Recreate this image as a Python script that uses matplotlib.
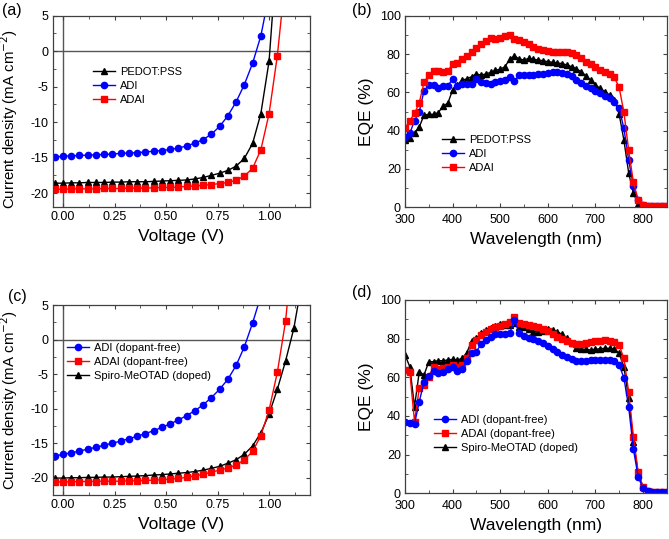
import numpy as np
import matplotlib.pyplot as plt
from matplotlib.ticker import MultipleLocator

plt.rcParams['font.family'] = ['Liberation Sans', 'DejaVu Sans']
plt.rcParams['axes.unicode_minus'] = False

# ---------- (a) J-V ----------
v_a_adi = [-0.04, 0.00, 0.04, 0.08, 0.12, 0.16, 0.20, 0.24, 0.28, 0.32, 0.36, 0.40, 0.44,
           0.48, 0.52, 0.56, 0.60, 0.64, 0.68, 0.72, 0.76, 0.80, 0.84, 0.88, 0.92, 0.96, 1.00]
j_a_adi = [-14.9, -14.8, -14.75, -14.7, -14.65, -14.6, -14.55, -14.5, -14.4, -14.35, -14.3, -14.2,
           -14.1, -14.0, -13.85, -13.65, -13.35, -12.95, -12.45, -11.7, -10.6, -9.1, -7.15, -4.7,
           -1.7, 2.15, 8.0]
v_a_pedot = v_a_adi + [1.04]
j_a_pedot = [-18.6, -18.6, -18.55, -18.55, -18.5, -18.5, -18.5, -18.45, -18.45, -18.4, -18.4, -18.4,
             -18.35, -18.3, -18.25, -18.2, -18.15, -18.0, -17.8, -17.5, -17.2, -16.8, -16.2, -15.1,
             -13.0, -8.8, -1.4, 14.6]
v_a_adai = v_a_pedot + [1.08]
j_a_adai = [-19.45, -19.45, -19.4, -19.4, -19.4, -19.4, -19.35, -19.35, -19.35, -19.3, -19.3, -19.3,
            -19.25, -19.2, -19.2, -19.15, -19.05, -19.0, -18.9, -18.8, -18.65, -18.5, -18.2, -17.6,
            -16.5, -13.9, -8.8, -0.65, 10.6]

# ---------- (c) J-V ----------
v_c_adi = v_a_adi[:-1]
j_c_adi = [-16.9, -16.6, -16.4, -16.15, -15.85, -15.6, -15.3, -15.0, -14.7, -14.35, -14.0, -13.6,
           -13.2, -12.7, -12.2, -11.65, -11.0, -10.3, -9.45, -8.4, -7.2, -5.75, -3.75, -1.05, 2.4, 6.3]
v_c_adai = v_a_adai + [1.12]
j_c_adai = [-20.6, -20.6, -20.6, -20.55, -20.55, -20.55, -20.5, -20.5, -20.5, -20.45, -20.45, -20.4,
            -20.35, -20.3, -20.2, -20.1, -19.95, -19.75, -19.5, -19.2, -18.9, -18.6, -18.15, -17.4,
            -16.2, -13.9, -10.2, -4.75, 2.65, 15.0]
v_c_spiro = v_c_adai + [1.16]
j_c_spiro = [-20.05, -20.05, -20.0, -20.0, -19.95, -19.95, -19.9, -19.9, -19.85, -19.8, -19.75, -19.7,
             -19.6, -19.55, -19.45, -19.35, -19.25, -19.1, -18.9, -18.65, -18.35, -17.9, -17.4, -16.6,
             -15.4, -13.5, -10.8, -7.2, -3.1, 1.6, 8.4]

# ---------- EQE ----------
wl = np.arange(300, 851, 10)

eqe_b_pedot = [35.1, 36.3, 38.6, 41.9, 48.2, 48.5, 48.5, 49.4, 52.9, 54.3, 61.2, 63.8, 66.4, 67.0,
               68.2, 69.6, 69.0, 69.6, 70.4, 71.5, 72.0, 73.4, 77.2, 79.0, 77.4, 76.9, 77.7, 77.2,
               76.9, 76.5, 76.0, 75.7, 75.3, 75.0, 74.3, 73.4, 72.3, 70.8, 68.7, 66.4, 63.8, 62.1,
               60.3, 58.6, 56.0, 48.7, 35.1, 18.1, 7.3, 1.7, 0.9, 0.3, 0.3, 0.3, 0.3, 0.3]
eqe_b_adi = [36.9, 38.6, 45.2, 49.9, 60.9, 63.8, 63.8, 62.1, 63.3, 63.3, 67.0, 63.5, 64.2, 64.3,
             64.2, 67.0, 65.2, 64.9, 64.2, 65.6, 65.9, 66.4, 68.2, 65.9, 69.0, 69.0, 69.0, 69.0,
             69.4, 69.6, 69.9, 70.4, 70.4, 69.9, 69.6, 68.5, 66.4, 64.7, 63.3, 62.1, 60.9, 59.5,
             58.1, 56.9, 55.1, 51.7, 41.2, 24.7, 11.3, 3.8, 1.2, 0.5, 0.5, 0.5, 0.5, 0.5]
eqe_b_adai = [41.2, 45.2, 49.0, 54.6, 65.2, 69.0, 71.3, 71.3, 70.8, 71.3, 74.6, 75.5, 77.2, 79.1,
              81.2, 83.3, 85.0, 87.0, 88.5, 88.0, 88.5, 89.4, 90.1, 88.0, 87.3, 86.4, 85.0, 83.8,
              82.8, 82.1, 81.4, 81.0, 81.0, 81.2, 81.0, 80.3, 79.5, 78.0, 76.0, 74.6, 73.0, 71.7,
              70.4, 69.6, 67.8, 62.6, 49.7, 29.9, 13.0, 4.0, 1.0, 0.5, 0.5, 0.5, 0.5, 0.5]

eqe_d_adi = [36.7, 36.2, 35.9, 47.4, 57.8, 60.7, 63.3, 62.1, 62.9, 64.3, 65.2, 63.4, 64.3, 68.6,
             72.8, 73.3, 77.2, 79.3, 81.0, 82.4, 82.2, 82.2, 82.8, 89.7, 82.8, 81.6, 80.5, 79.7,
             78.8, 77.6, 76.2, 74.7, 73.3, 71.6, 70.3, 69.3, 68.6, 68.4, 68.6, 69.0, 69.0, 69.0,
             69.0, 69.0, 68.6, 66.4, 59.8, 44.8, 22.9, 8.6, 2.6, 1.0, 0.5, 0.5, 0.5, 0.5]
eqe_d_adai = [63.8, 62.9, 37.1, 54.3, 56.0, 60.3, 65.5, 64.3, 64.7, 65.5, 66.4, 65.5, 66.4, 69.8,
              76.7, 79.3, 81.9, 83.6, 85.0, 85.9, 86.6, 87.6, 88.4, 91.4, 87.9, 87.6, 87.1, 86.6,
              85.9, 85.0, 84.0, 82.4, 81.0, 79.8, 78.8, 77.9, 77.2, 77.2, 77.6, 78.1, 78.6, 79.0,
              79.1, 79.0, 78.4, 76.7, 69.8, 52.6, 29.3, 11.2, 3.4, 1.2, 0.5, 0.5, 0.5, 0.5]
eqe_d_spiro = [71.6, 65.5, 44.8, 62.9, 61.2, 68.1, 68.1, 68.6, 68.6, 69.0, 69.3, 69.0, 69.8, 72.8,
               78.8, 80.2, 82.8, 84.5, 85.3, 86.7, 87.6, 87.1, 87.1, 87.9, 86.2, 85.9, 85.0, 83.6,
               83.6, 84.1, 84.8, 84.5, 83.6, 82.2, 80.2, 77.6, 75.3, 74.5, 74.5, 74.1, 74.5, 74.8,
               75.0, 75.0, 74.7, 72.4, 65.5, 49.1, 26.7, 10.3, 3.4, 1.2, 0.5, 0.5, 0.5, 0.5]

W, H = 669, 539
fig = plt.figure(figsize=(W / 100, H / 100), dpi=100)


def px_axes(left, top, right, bottom):
    return fig.add_axes([left / W, 1 - bottom / H, (right - left) / W, (bottom - top) / H])


def style(ax, xpad=3):
    for s in ax.spines.values():
        s.set_color('#404040')
        s.set_linewidth(0.9)
    ax.tick_params(which='both', direction='in', top=True, right=True, color='#404040',
                   labelsize=9, pad=3)
    ax.tick_params(axis='x', pad=xpad)
    ax.tick_params(which='major', length=3)
    ax.tick_params(which='minor', length=2)


def px_legend(ax, handles, x, y):
    ax.legend(handles=handles, loc='upper left', bbox_to_anchor=(x / W, 1 - y / H),
              bbox_transform=fig.transFigure, frameon=False, fontsize=8, borderpad=0,
              borderaxespad=0, handlelength=2.0, handletextpad=0.4, labelspacing=0.35)


mk = dict(markersize=4.5, linewidth=1.0)

# (a)
ax = px_axes(52.7, 15.7, 310.3, 207.3)
ax.axhline(0, color='#555555', lw=1.0, zorder=1)
ax.axvline(0, color='#555555', lw=1.0, zorder=1)
h1, = ax.plot(v_a_pedot, j_a_pedot, '-^', color='black', label='PEDOT:PSS', **mk)
h2, = ax.plot(v_a_adi, j_a_adi, '-o', color='#0000ff', label='ADI', **mk)
h3, = ax.plot(v_a_adai, j_a_adai, '-s', color='#ff0000', label='ADAI', **mk)
ax.set_xlim(-0.05, 1.2)
ax.set_ylim(-22, 5)
ax.xaxis.set_major_locator(MultipleLocator(0.25))
ax.xaxis.set_minor_locator(MultipleLocator(0.125))
ax.yaxis.set_major_locator(MultipleLocator(5))
ax.yaxis.set_minor_locator(MultipleLocator(2.5))
ax.xaxis.set_major_formatter(plt.FormatStrFormatter('%.2f'))
ax.set_xlabel('Voltage (V)', fontsize=12.5)
ax.set_ylabel('Current density (mA cm$^{-2}$)', fontsize=10.8)
style(ax)
ax.yaxis.set_label_coords(-0.125, 0.46)
px_legend(ax, [h1, h2, h3], 93, 67)
fig.text(2 / W, 1 - 11 / H, '(a)', fontsize=11.5, va='center')

# (b)
ax = px_axes(405, 15.7, 666.7, 207.3)
h1, = ax.plot(wl, eqe_b_pedot, '-^', color='black', label='PEDOT:PSS', **mk)
h2, = ax.plot(wl, eqe_b_adi, '-o', color='#0000ff', label='ADI', **mk)
h3, = ax.plot(wl, eqe_b_adai, '-s', color='#ff0000', label='ADAI', **mk)
ax.set_xlim(300, 850)
ax.set_ylim(0, 100)
ax.xaxis.set_major_locator(MultipleLocator(100))
ax.xaxis.set_minor_locator(MultipleLocator(50))
ax.yaxis.set_major_locator(MultipleLocator(20))
ax.yaxis.set_minor_locator(MultipleLocator(10))
ax.set_xlabel('Wavelength (nm)', fontsize=12.5)
ax.set_ylabel('EQE (%)', fontsize=12.5)
style(ax, xpad=5)
px_legend(ax, [h1, h2, h3], 442, 135)
fig.text(352 / W, 1 - 11 / H, '(b)', fontsize=11.5, va='center')

# (c)
ax = px_axes(52.7, 305, 310.3, 495)
ax.axhline(0, color='#555555', lw=1.0, zorder=1)
ax.axvline(0, color='#555555', lw=1.0, zorder=1)
h3, = ax.plot(v_c_spiro, j_c_spiro, '-^', color='black', label='Spiro-MeOTAD (doped)', **mk)
h2, = ax.plot(v_c_adai, j_c_adai, '-s', color='#ff0000', label='ADAI (dopant-free)', **mk)
h1, = ax.plot(v_c_adi, j_c_adi, '-o', color='#0000ff', label='ADI (dopant-free)', **mk)
ax.set_xlim(-0.05, 1.2)
ax.set_ylim(-22.5, 5)
ax.xaxis.set_major_locator(MultipleLocator(0.25))
ax.xaxis.set_minor_locator(MultipleLocator(0.125))
ax.yaxis.set_major_locator(MultipleLocator(5))
ax.yaxis.set_minor_locator(MultipleLocator(2.5))
ax.xaxis.set_major_formatter(plt.FormatStrFormatter('%.2f'))
ax.set_xlabel('Voltage (V)', fontsize=12.5)
ax.set_ylabel('Current density (mA cm$^{-2}$)', fontsize=10.8)
style(ax)
ax.yaxis.set_label_coords(-0.125, 0.5)
px_legend(ax, [h1, h2, h3], 67, 343)
fig.text(8 / W, 1 - 296 / H, '(c)', fontsize=11.5, va='center')

# (d)
ax = px_axes(405, 300, 666.7, 493.3)
h3, = ax.plot(wl, eqe_d_spiro, '-^', color='black', label='Spiro-MeOTAD (doped)', **mk)
h2, = ax.plot(wl, eqe_d_adai, '-s', color='#ff0000', label='ADAI (dopant-free)', **mk)
h1, = ax.plot(wl, eqe_d_adi, '-o', color='#0000ff', label='ADI (dopant-free)', **mk)
ax.set_xlim(300, 850)
ax.set_ylim(0, 100)
ax.xaxis.set_major_locator(MultipleLocator(100))
ax.xaxis.set_minor_locator(MultipleLocator(50))
ax.yaxis.set_major_locator(MultipleLocator(20))
ax.yaxis.set_minor_locator(MultipleLocator(10))
ax.set_xlabel('Wavelength (nm)', fontsize=12.5)
ax.set_ylabel('EQE (%)', fontsize=12.5)
style(ax, xpad=5)
px_legend(ax, [h1, h2, h3], 434, 415)
fig.text(352 / W, 1 - 292 / H, '(d)', fontsize=11.5, va='center')

fig.savefig('out.png', dpi=100)
